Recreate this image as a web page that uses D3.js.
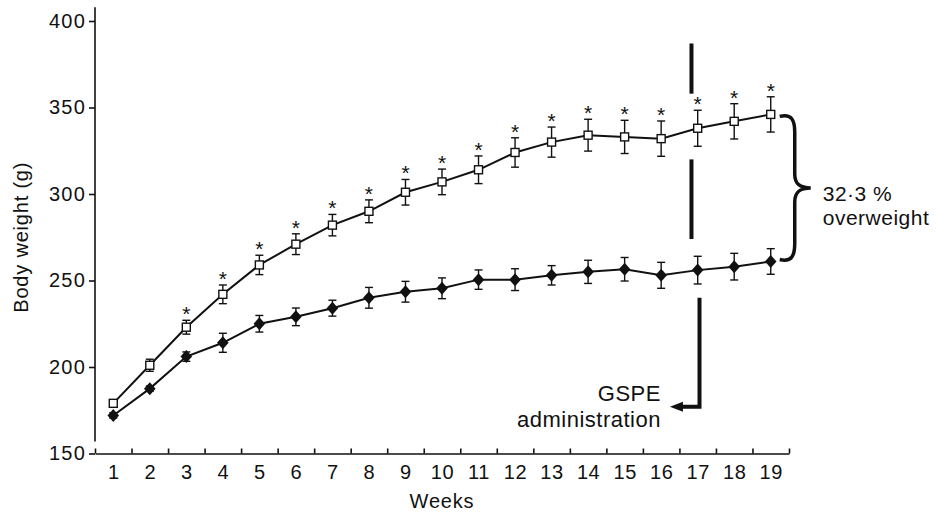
<!DOCTYPE html>
<html>
<head>
<meta charset="utf-8">
<script src="https://cdn.jsdelivr.net/npm/d3@7"></script>
<style>
  body { margin: 0; background: #fff; }
  text { font-family: "Liberation Sans", Arial, sans-serif; fill: #111; }
</style>
</head>
<body>
<div id="chart"></div>
<script>
// values
const weeks = [1,2,3,4,5,6,7,8,9,10,11,12,13,14,15,16,17,18,19];
const overweight = [179, 201, 223, 242, 259, 271, 282, 290, 301, 307, 314, 324, 330, 334, 333, 332, 338, 342, 346];
const overweightErr = [1.5, 3.5, 4, 5.4, 5.6, 6, 6.2, 6.6, 7.4, 7.4, 8, 8.5, 8.7, 9.2, 9.6, 10.2, 10.4, 10.2, 10.2];
const control = [172, 187.5, 206, 214, 225, 229, 234, 240, 243.5, 245.5, 250.5, 250.5, 253, 255, 256.5, 253, 256, 258, 261];
const controlErr = [1.5, 1.5, 2.7, 5.5, 4.8, 5.1, 4.6, 6, 6, 6, 5.6, 6.3, 5.6, 6.7, 6.8, 7.5, 8, 7.7, 7.4];
const starWeeks = [3,4,5,6,7,8,9,10,11,12,13,14,15,16,17,18,19];
const yTicks = [150, 200, 250, 300, 350, 400];
// GSPE marker: dashed segments and arrow (week, weight)
const gspeDashWeek = 16.83;
const gspeDashes = [[387, 358], [320, 274]];
const gspeStemWeek = 17.05;
const gspeStem = [240, 177];
const gspeArrowTipWeek = 16.24;

function graphIt(){
  const W = 937, H = 515;
  const margin = { top: 21, right: 148, bottom: 61.5, left: 95 };
  const width = W - margin.left - margin.right;
  const height = H - margin.top - margin.bottom;

  const svg = d3.select('#chart')
    .append('svg')
    .attr('width', W)
    .attr('height', H);
  const g = svg.append('g')
    .attr('transform', 'translate(' + margin.left + ',' + margin.top + ')');

  const x = d3.scaleLinear().domain([0.5, 19.5]).range([0, width]);
  const y = d3.scaleLinear().domain([150, 400]).range([height, 0]);

  // x axis: boundary ticks pointing up, labels under each week
  const bounds = weeks.map(function(d){ return d - 0.5; }).concat([19.5]);
  const xAxis = g.append('g')
    .attr('transform', 'translate(0,' + height + ')')
    .call(d3.axisBottom(x).tickValues(bounds).tickSizeInner(-5).tickSizeOuter(0).tickFormat(''));
  xAxis.selectAll('path, line').attr('stroke', '#111').attr('stroke-width', 1.6);

  const xLab = g.append('g')
    .attr('transform', 'translate(0,' + height + ')')
    .call(d3.axisBottom(x).tickValues(weeks).tickSize(0).tickPadding(11.5).tickFormat(d3.format('d')));
  xLab.select('.domain').remove();
  xLab.selectAll('text')
    .style('font-size', '20px')
    .style('letter-spacing', '0.6px')
    .style('font-family', '"Liberation Sans", Arial, sans-serif')
    .attr('fill', '#111');

  // y axis: ticks outward, axis line with a gap above the x axis
  const yAxis = g.append('g')
    .call(d3.axisLeft(y).tickValues(yTicks).tickSize(6).tickPadding(3));
  yAxis.select('.domain').remove();
  yAxis.selectAll('line').attr('stroke', '#111').attr('stroke-width', 1.6);
  yAxis.selectAll('text')
    .style('font-size', '20px')
    .style('letter-spacing', '1.2px')
    .style('font-family', '"Liberation Sans", Arial, sans-serif')
    .attr('fill', '#111');
  g.append('line')
    .attr('x1', 0).attr('x2', 0)
    .attr('y1', y(157)).attr('y2', y(408))
    .attr('stroke', '#111').attr('stroke-width', 1.6);

  // axis titles
  svg.append('text')
    .attr('transform', 'translate(28,' + (margin.top + y(275)) + ') rotate(-90)')
    .attr('text-anchor', 'middle')
    .style('font-size', '20px')
    .style('letter-spacing', '0.8px')
    .text('Body weight (g)');
  svg.append('text')
    .attr('x', margin.left + x(10))
    .attr('y', 508)
    .attr('text-anchor', 'middle')
    .style('font-size', '20px')
    .style('letter-spacing', '0.8px')
    .text('Weeks');

  const line = d3.line()
    .x(function(d){ return x(d.week); })
    .y(function(d){ return y(d.value); });

  const series = [
    { name: 'overweight', values: weeks.map(function(w, i){ return { week: w, value: overweight[i], err: overweightErr[i] }; }) },
    { name: 'control', values: weeks.map(function(w, i){ return { week: w, value: control[i], err: controlErr[i] }; }) }
  ];

  // error bars
  series.forEach(function(s){
    const eb = g.selectAll('.eb-' + s.name)
      .data(s.values)
      .enter().append('g')
      .attr('class', 'eb-' + s.name)
      .attr('stroke', '#111')
      .attr('stroke-width', 1.4);
    eb.append('line')
      .attr('x1', function(d){ return x(d.week); })
      .attr('x2', function(d){ return x(d.week); })
      .attr('y1', function(d){ return y(d.value - d.err); })
      .attr('y2', function(d){ return y(d.value + d.err); });
    [1, -1].forEach(function(sign){
      eb.append('line')
        .attr('x1', function(d){ return x(d.week) - 4; })
        .attr('x2', function(d){ return x(d.week) + 4; })
        .attr('y1', function(d){ return y(d.value + sign * d.err); })
        .attr('y2', function(d){ return y(d.value + sign * d.err); });
    });
  });

  // connecting lines
  g.selectAll('.line')
    .data(series)
    .enter().append('path')
    .attr('class', 'line')
    .attr('d', function(d){ return line(d.values); })
    .attr('fill', 'none')
    .attr('stroke', '#111')
    .attr('stroke-width', 2);

  // control: filled diamonds
  g.selectAll('.diamond')
    .data(series[1].values)
    .enter().append('path')
    .attr('class', 'diamond')
    .attr('transform', function(d){ return 'translate(' + x(d.week) + ',' + y(d.value) + ')'; })
    .attr('d', 'M0,-6.5L5.8,0L0,6.5L-5.8,0Z')
    .attr('fill', '#111');

  // overweight: open squares
  g.selectAll('.square')
    .data(series[0].values)
    .enter().append('rect')
    .attr('class', 'square')
    .attr('x', function(d){ return x(d.week) - 4; })
    .attr('y', function(d){ return y(d.value) - 4; })
    .attr('width', 8)
    .attr('height', 8)
    .attr('fill', '#fff')
    .attr('stroke', '#111')
    .attr('stroke-width', 1.4);

  // significance stars
  g.selectAll('.star')
    .data(starWeeks)
    .enter().append('text')
    .attr('class', 'star')
    .attr('x', function(w){ return x(w); })
    .attr('y', function(w){ return y(overweight[w - 1] + overweightErr[w - 1]) + 1; })
    .attr('text-anchor', 'middle')
    .style('font-size', '21px')
    .text('*');

  // GSPE dashed marker
  g.selectAll('.dash')
    .data(gspeDashes)
    .enter().append('line')
    .attr('class', 'dash')
    .attr('x1', x(gspeDashWeek)).attr('x2', x(gspeDashWeek))
    .attr('y1', function(d){ return y(d[0]); })
    .attr('y2', function(d){ return y(d[1]); })
    .attr('stroke', '#111')
    .attr('stroke-width', 4);

  const sx = x(gspeStemWeek), sy = y(gspeStem[1]), tip = x(gspeArrowTipWeek);
  g.append('path')
    .attr('d', 'M' + sx + ',' + y(gspeStem[0]) + 'V' + sy + 'H' + (tip + 10))
    .attr('fill', 'none')
    .attr('stroke', '#111')
    .attr('stroke-width', 4);
  g.append('path')
    .attr('d', 'M' + tip + ',' + sy + 'L' + (tip + 13) + ',' + (sy - 5) + 'L' + (tip + 13) + ',' + (sy + 5) + 'Z')
    .attr('fill', '#111');

  const gspeText = g.append('text')
    .attr('text-anchor', 'end')
    .style('font-size', '22px')
    .style('letter-spacing', '0.5px');
  gspeText.append('tspan').attr('x', tip - 9).attr('y', sy - 6).text('GSPE');
  gspeText.append('tspan').attr('x', tip - 9).attr('y', sy + 20).text('administration');

  // brace between the two groups at week 19
  const bx = x(19) + 9;
  const yt = y(overweight[18]), yb = y(control[18]);
  const ym = (yt + yb) / 2;
  g.append('path')
    .attr('d',
      'M' + bx + ',' + (yt + 2) +
      'C' + (bx + 12) + ',' + (yt - 1) + ' ' + (bx + 15) + ',' + (yt + 6) + ' ' + (bx + 15) + ',' + (yt + 18) +
      'L' + (bx + 15) + ',' + (ym - 14) +
      'C' + (bx + 15) + ',' + (ym - 4) + ' ' + (bx + 20) + ',' + ym + ' ' + (bx + 31) + ',' + ym +
      'C' + (bx + 20) + ',' + ym + ' ' + (bx + 15) + ',' + (ym + 4) + ' ' + (bx + 15) + ',' + (ym + 14) +
      'L' + (bx + 15) + ',' + (yb - 18) +
      'C' + (bx + 15) + ',' + (yb - 6) + ' ' + (bx + 12) + ',' + (yb + 1) + ' ' + bx + ',' + (yb - 2))
    .attr('fill', 'none')
    .attr('stroke', '#111')
    .attr('stroke-width', 3.5);

  const pctText = g.append('text')
    .style('font-size', '21px')
    .style('letter-spacing', '0.5px');
  pctText.append('tspan').attr('x', bx + 43).attr('y', ym + 13).text('32·3 %');
  pctText.append('tspan').attr('x', bx + 43).attr('y', ym + 37).text('overweight');
}

graphIt();
</script>
</body>
</html>
